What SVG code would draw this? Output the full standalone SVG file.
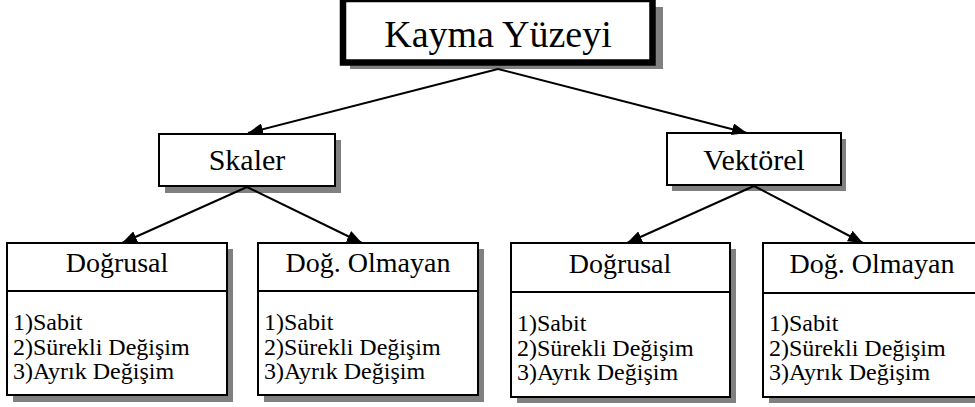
<svg xmlns="http://www.w3.org/2000/svg" width="975" height="407" viewBox="0 0 975 407">
<defs>
<marker id="ah" markerUnits="userSpaceOnUse" markerWidth="16" markerHeight="12" refX="15" refY="6" orient="auto">
<path d="M0,0 L15,6 L0,12 z" fill="#000000"/>
</marker>
</defs>
<rect x="0" y="0" width="975" height="407" fill="#ffffff"/>

<g id="node-kayma">
<rect x="350" y="7" width="313" height="62" fill="#808080"/>
<rect x="343" y="-1" width="309.5" height="63.5" fill="#ffffff" stroke="#000000" stroke-width="6.5"/>
<text x="498" y="47" font-family="'Liberation Serif', 'Times New Roman', serif" font-size="38" text-anchor="middle">Kayma Yüzeyi</text>
</g>

<g id="node-skaler">
<rect x="165" y="140" width="176" height="53" fill="#808080"/>
<rect x="159" y="134" width="176" height="52" fill="#ffffff" stroke="#000000" stroke-width="2"/>
<text x="247" y="170" font-family="'Liberation Serif', 'Times New Roman', serif" font-size="30" text-anchor="middle">Skaler</text>
</g>

<g id="node-vektorel">
<rect x="672" y="139" width="174" height="52" fill="#808080"/>
<rect x="667" y="133" width="174" height="52" fill="#ffffff" stroke="#000000" stroke-width="2"/>
<text x="754" y="170" font-family="'Liberation Serif', 'Times New Roman', serif" font-size="30" text-anchor="middle">Vektörel</text>
</g>

<g id="node-skaler-dogrusal">
<rect x="13" y="249" width="220" height="153" fill="#808080"/>
<rect x="7" y="243" width="220" height="152" fill="#ffffff" stroke="#000000" stroke-width="2"/>
<line x1="7" y1="291" x2="227" y2="291" stroke="#000000" stroke-width="2"/>
<text x="117" y="272" font-family="'Liberation Serif', 'Times New Roman', serif" font-size="28" text-anchor="middle">Doğrusal</text>
<text x="13" y="330" font-family="'Liberation Serif', 'Times New Roman', serif" font-size="24">1)Sabit</text>
<text x="13" y="355" font-family="'Liberation Serif', 'Times New Roman', serif" font-size="24">2)Sürekli Değişim</text>
<text x="13" y="379" font-family="'Liberation Serif', 'Times New Roman', serif" font-size="24">3)Ayrık Değişim</text>
</g>

<g id="node-skaler-dogolmayan">
<rect x="264" y="249" width="220" height="153" fill="#808080"/>
<rect x="258" y="243" width="220" height="152" fill="#ffffff" stroke="#000000" stroke-width="2"/>
<line x1="258" y1="291" x2="478" y2="291" stroke="#000000" stroke-width="2"/>
<text x="368" y="272" font-family="'Liberation Serif', 'Times New Roman', serif" font-size="28" text-anchor="middle">Doğ. Olmayan</text>
<text x="264" y="330" font-family="'Liberation Serif', 'Times New Roman', serif" font-size="24">1)Sabit</text>
<text x="264" y="355" font-family="'Liberation Serif', 'Times New Roman', serif" font-size="24">2)Sürekli Değişim</text>
<text x="264" y="379" font-family="'Liberation Serif', 'Times New Roman', serif" font-size="24">3)Ayrık Değişim</text>
</g>

<g id="node-vektorel-dogrusal">
<rect x="517" y="249" width="219" height="154" fill="#808080"/>
<rect x="511" y="243" width="219" height="154" fill="#ffffff" stroke="#000000" stroke-width="2"/>
<line x1="511" y1="292" x2="730" y2="292" stroke="#000000" stroke-width="2"/>
<text x="620" y="273" font-family="'Liberation Serif', 'Times New Roman', serif" font-size="28" text-anchor="middle">Doğrusal</text>
<text x="517" y="331" font-family="'Liberation Serif', 'Times New Roman', serif" font-size="24">1)Sabit</text>
<text x="517" y="356" font-family="'Liberation Serif', 'Times New Roman', serif" font-size="24">2)Sürekli Değişim</text>
<text x="517" y="380" font-family="'Liberation Serif', 'Times New Roman', serif" font-size="24">3)Ayrık Değişim</text>
</g>

<g id="node-vektorel-dogolmayan">
<rect x="769" y="249" width="218" height="154" fill="#808080"/>
<rect x="763" y="243" width="218" height="154" fill="#ffffff" stroke="#000000" stroke-width="2"/>
<line x1="763" y1="293" x2="981" y2="293" stroke="#000000" stroke-width="2"/>
<text x="872" y="273" font-family="'Liberation Serif', 'Times New Roman', serif" font-size="28" text-anchor="middle">Doğ. Olmayan</text>
<text x="769" y="331" font-family="'Liberation Serif', 'Times New Roman', serif" font-size="24">1)Sabit</text>
<text x="769" y="356" font-family="'Liberation Serif', 'Times New Roman', serif" font-size="24">2)Sürekli Değişim</text>
<text x="769" y="380" font-family="'Liberation Serif', 'Times New Roman', serif" font-size="24">3)Ayrık Değişim</text>
</g>

<g id="connectors" stroke="#000000" stroke-width="2" fill="none" marker-end="url(#ah)">
<line x1="498" y1="69" x2="248" y2="133"/>
<line x1="498" y1="69" x2="747" y2="133"/>
<line x1="247" y1="187" x2="122" y2="243"/>
<line x1="247" y1="187" x2="362" y2="243"/>
<line x1="754" y1="186" x2="627" y2="243"/>
<line x1="754" y1="186" x2="863" y2="243"/>
</g>
</svg>
